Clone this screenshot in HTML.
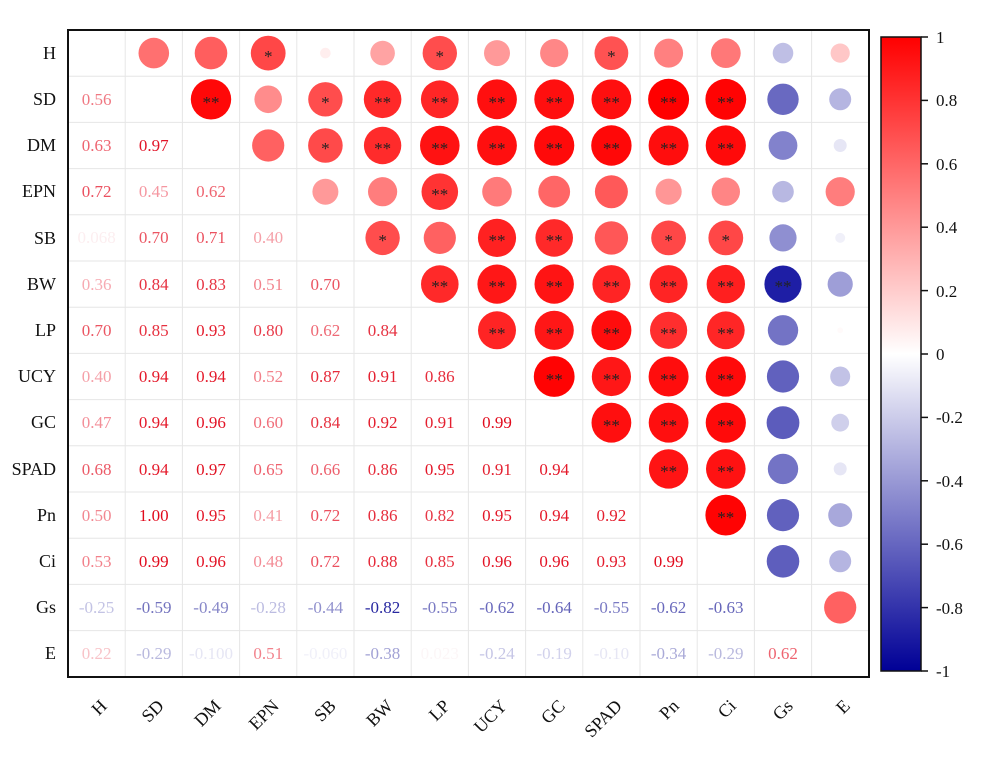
<!DOCTYPE html>
<html><head><meta charset="utf-8"><style>
html,body{margin:0;padding:0;background:#fff}
svg{display:block}
text{font-family:"Liberation Serif",serif}
</style></head><body>
<svg width="1000" height="765" viewBox="0 0 1000 765" xmlns="http://www.w3.org/2000/svg">
<defs><linearGradient id="cb" x1="0" y1="0" x2="0" y2="1">
<stop offset="0" stop-color="rgb(255,0,0)"/><stop offset="0.5" stop-color="#fff"/><stop offset="1" stop-color="rgb(0,0,150)"/></linearGradient></defs>
<g stroke="#e6e6e6" stroke-width="1">
<line x1="125.2" y1="30" x2="125.2" y2="677"/><line x1="182.4" y1="30" x2="182.4" y2="677"/><line x1="239.6" y1="30" x2="239.6" y2="677"/><line x1="296.8" y1="30" x2="296.8" y2="677"/><line x1="354" y1="30" x2="354" y2="677"/><line x1="411.2" y1="30" x2="411.2" y2="677"/><line x1="468.4" y1="30" x2="468.4" y2="677"/><line x1="525.6" y1="30" x2="525.6" y2="677"/><line x1="582.8" y1="30" x2="582.8" y2="677"/><line x1="640" y1="30" x2="640" y2="677"/><line x1="697.2" y1="30" x2="697.2" y2="677"/><line x1="754.4" y1="30" x2="754.4" y2="677"/><line x1="811.6" y1="30" x2="811.6" y2="677"/>
<line x1="68" y1="76.2" x2="869" y2="76.2"/><line x1="68" y1="122.4" x2="869" y2="122.4"/><line x1="68" y1="168.6" x2="869" y2="168.6"/><line x1="68" y1="214.8" x2="869" y2="214.8"/><line x1="68" y1="261" x2="869" y2="261"/><line x1="68" y1="307.2" x2="869" y2="307.2"/><line x1="68" y1="353.4" x2="869" y2="353.4"/><line x1="68" y1="399.6" x2="869" y2="399.6"/><line x1="68" y1="445.8" x2="869" y2="445.8"/><line x1="68" y1="492" x2="869" y2="492"/><line x1="68" y1="538.2" x2="869" y2="538.2"/><line x1="68" y1="584.4" x2="869" y2="584.4"/><line x1="68" y1="630.6" x2="869" y2="630.6"/>
</g>
<rect x="68" y="30" width="801" height="647" fill="none" stroke="#111" stroke-width="2"/>
<g>
<circle cx="153.8" cy="53.1" r="15.3" fill="rgb(255,112,112)"/><circle cx="211" cy="53.1" r="16.3" fill="rgb(255,94,94)"/><circle cx="268.2" cy="53.1" r="17.4" fill="rgb(255,71,71)"/><circle cx="325.4" cy="53.1" r="5.3" fill="rgb(255,238,238)"/><circle cx="382.6" cy="53.1" r="12.3" fill="rgb(255,163,163)"/><circle cx="439.8" cy="53.1" r="17.2" fill="rgb(255,77,77)"/><circle cx="497" cy="53.1" r="13" fill="rgb(255,153,153)"/><circle cx="554.2" cy="53.1" r="14.1" fill="rgb(255,135,135)"/><circle cx="611.4" cy="53.1" r="16.9" fill="rgb(255,82,82)"/><circle cx="668.6" cy="53.1" r="14.5" fill="rgb(255,128,128)"/><circle cx="725.8" cy="53.1" r="14.9" fill="rgb(255,120,120)"/><circle cx="783" cy="53.1" r="10.3" fill="rgb(191,191,229)"/><circle cx="840.2" cy="53.1" r="9.6" fill="rgb(255,199,199)"/>
<circle cx="211" cy="99.3" r="20.2" fill="rgb(255,8,8)"/><circle cx="268.2" cy="99.3" r="13.8" fill="rgb(255,140,140)"/><circle cx="325.4" cy="99.3" r="17.2" fill="rgb(255,77,77)"/><circle cx="382.6" cy="99.3" r="18.8" fill="rgb(255,41,41)"/><circle cx="439.8" cy="99.3" r="18.9" fill="rgb(255,38,38)"/><circle cx="497" cy="99.3" r="19.9" fill="rgb(255,15,15)"/><circle cx="554.2" cy="99.3" r="19.9" fill="rgb(255,15,15)"/><circle cx="611.4" cy="99.3" r="19.9" fill="rgb(255,15,15)"/><circle cx="668.6" cy="99.3" r="20.5" fill="rgb(255,0,0)"/><circle cx="725.8" cy="99.3" r="20.4" fill="rgb(255,3,3)"/><circle cx="783" cy="99.3" r="15.7" fill="rgb(105,105,193)"/><circle cx="840.2" cy="99.3" r="11" fill="rgb(181,181,225)"/>
<circle cx="268.2" cy="145.5" r="16.1" fill="rgb(255,97,97)"/><circle cx="325.4" cy="145.5" r="17.3" fill="rgb(255,74,74)"/><circle cx="382.6" cy="145.5" r="18.7" fill="rgb(255,43,43)"/><circle cx="439.8" cy="145.5" r="19.8" fill="rgb(255,18,18)"/><circle cx="497" cy="145.5" r="19.9" fill="rgb(255,15,15)"/><circle cx="554.2" cy="145.5" r="20.1" fill="rgb(255,10,10)"/><circle cx="611.4" cy="145.5" r="20.2" fill="rgb(255,8,8)"/><circle cx="668.6" cy="145.5" r="20" fill="rgb(255,13,13)"/><circle cx="725.8" cy="145.5" r="20.1" fill="rgb(255,10,10)"/><circle cx="783" cy="145.5" r="14.4" fill="rgb(130,130,204)"/><circle cx="840.2" cy="145.5" r="6.5" fill="rgb(230,230,245)"/>
<circle cx="325.4" cy="191.7" r="13" fill="rgb(255,153,153)"/><circle cx="382.6" cy="191.7" r="14.6" fill="rgb(255,125,125)"/><circle cx="439.8" cy="191.7" r="18.3" fill="rgb(255,51,51)"/><circle cx="497" cy="191.7" r="14.8" fill="rgb(255,122,122)"/><circle cx="554.2" cy="191.7" r="15.9" fill="rgb(255,102,102)"/><circle cx="611.4" cy="191.7" r="16.5" fill="rgb(255,89,89)"/><circle cx="668.6" cy="191.7" r="13.1" fill="rgb(255,150,150)"/><circle cx="725.8" cy="191.7" r="14.2" fill="rgb(255,133,133)"/><circle cx="783" cy="191.7" r="10.8" fill="rgb(184,184,226)"/><circle cx="840.2" cy="191.7" r="14.6" fill="rgb(255,125,125)"/>
<circle cx="382.6" cy="237.9" r="17.2" fill="rgb(255,77,77)"/><circle cx="439.8" cy="237.9" r="16.1" fill="rgb(255,97,97)"/><circle cx="497" cy="237.9" r="19.1" fill="rgb(255,33,33)"/><circle cx="554.2" cy="237.9" r="18.8" fill="rgb(255,41,41)"/><circle cx="611.4" cy="237.9" r="16.7" fill="rgb(255,87,87)"/><circle cx="668.6" cy="237.9" r="17.4" fill="rgb(255,71,71)"/><circle cx="725.8" cy="237.9" r="17.4" fill="rgb(255,71,71)"/><circle cx="783" cy="237.9" r="13.6" fill="rgb(143,143,209)"/><circle cx="840.2" cy="237.9" r="5" fill="rgb(240,240,249)"/>
<circle cx="439.8" cy="284.1" r="18.8" fill="rgb(255,41,41)"/><circle cx="497" cy="284.1" r="19.6" fill="rgb(255,23,23)"/><circle cx="554.2" cy="284.1" r="19.7" fill="rgb(255,20,20)"/><circle cx="611.4" cy="284.1" r="19" fill="rgb(255,36,36)"/><circle cx="668.6" cy="284.1" r="19" fill="rgb(255,36,36)"/><circle cx="725.8" cy="284.1" r="19.2" fill="rgb(255,31,31)"/><circle cx="783" cy="284.1" r="18.6" fill="rgb(30,30,165)"/><circle cx="840.2" cy="284.1" r="12.6" fill="rgb(158,158,215)"/>
<circle cx="497" cy="330.3" r="19" fill="rgb(255,36,36)"/><circle cx="554.2" cy="330.3" r="19.6" fill="rgb(255,23,23)"/><circle cx="611.4" cy="330.3" r="20" fill="rgb(255,13,13)"/><circle cx="668.6" cy="330.3" r="18.6" fill="rgb(255,46,46)"/><circle cx="725.8" cy="330.3" r="18.9" fill="rgb(255,38,38)"/><circle cx="783" cy="330.3" r="15.2" fill="rgb(115,115,197)"/><circle cx="840.2" cy="330.3" r="2.9" fill="rgb(255,250,250)"/>
<circle cx="554.2" cy="376.5" r="20.4" fill="rgb(255,3,3)"/><circle cx="611.4" cy="376.5" r="19.6" fill="rgb(255,23,23)"/><circle cx="668.6" cy="376.5" r="20" fill="rgb(255,13,13)"/><circle cx="725.8" cy="376.5" r="20.1" fill="rgb(255,10,10)"/><circle cx="783" cy="376.5" r="16.1" fill="rgb(97,97,190)"/><circle cx="840.2" cy="376.5" r="10" fill="rgb(194,194,230)"/>
<circle cx="611.4" cy="422.7" r="19.9" fill="rgb(255,15,15)"/><circle cx="668.6" cy="422.7" r="19.9" fill="rgb(255,15,15)"/><circle cx="725.8" cy="422.7" r="20.1" fill="rgb(255,10,10)"/><circle cx="783" cy="422.7" r="16.4" fill="rgb(92,92,188)"/><circle cx="840.2" cy="422.7" r="8.9" fill="rgb(207,207,235)"/>
<circle cx="668.6" cy="468.9" r="19.7" fill="rgb(255,20,20)"/><circle cx="725.8" cy="468.9" r="19.8" fill="rgb(255,18,18)"/><circle cx="783" cy="468.9" r="15.2" fill="rgb(115,115,197)"/><circle cx="840.2" cy="468.9" r="6.5" fill="rgb(230,230,245)"/>
<circle cx="725.8" cy="515.1" r="20.4" fill="rgb(255,3,3)"/><circle cx="783" cy="515.1" r="16.1" fill="rgb(97,97,190)"/><circle cx="840.2" cy="515.1" r="12" fill="rgb(168,168,219)"/>
<circle cx="783" cy="561.3" r="16.3" fill="rgb(94,94,189)"/><circle cx="840.2" cy="561.3" r="11" fill="rgb(181,181,225)"/>
<circle cx="840.2" cy="607.5" r="16.1" fill="rgb(255,97,97)"/>
</g>
<g font-size="17" fill="#222" text-anchor="middle">
<text x="268.2" y="62">*</text><text x="439.8" y="62">*</text><text x="611.4" y="62">*</text>
<text x="211" y="108">**</text><text x="325.4" y="108">*</text><text x="382.6" y="108">**</text><text x="439.8" y="108">**</text><text x="497" y="108">**</text><text x="554.2" y="108">**</text><text x="611.4" y="108">**</text><text x="668.6" y="108">**</text><text x="725.8" y="108">**</text>
<text x="325.4" y="154">*</text><text x="382.6" y="154">**</text><text x="439.8" y="154">**</text><text x="497" y="154">**</text><text x="554.2" y="154">**</text><text x="611.4" y="154">**</text><text x="668.6" y="154">**</text><text x="725.8" y="154">**</text>
<text x="439.8" y="200">**</text>
<text x="382.6" y="246">*</text><text x="497" y="246">**</text><text x="554.2" y="246">**</text><text x="668.6" y="246">*</text><text x="725.8" y="246">*</text>
<text x="439.8" y="292">**</text><text x="497" y="292">**</text><text x="554.2" y="292">**</text><text x="611.4" y="292">**</text><text x="668.6" y="292">**</text><text x="725.8" y="292">**</text><text x="783" y="292">**</text>
<text x="497" y="339">**</text><text x="554.2" y="339">**</text><text x="611.4" y="339">**</text><text x="668.6" y="339">**</text><text x="725.8" y="339">**</text>
<text x="554.2" y="385">**</text><text x="611.4" y="385">**</text><text x="668.6" y="385">**</text><text x="725.8" y="385">**</text>
<text x="611.4" y="431">**</text><text x="668.6" y="431">**</text><text x="725.8" y="431">**</text>
<text x="668.6" y="477">**</text><text x="725.8" y="477">**</text>
<text x="725.8" y="523">**</text>
</g>
<g font-size="17" text-anchor="middle">
<text x="96.6" y="105" fill="rgb(240,120,130)">0.56</text>
<text x="96.6" y="151" fill="rgb(238,100,112)">0.63</text><text x="153.8" y="151" fill="rgb(225,20,40)">0.97</text>
<text x="96.6" y="197" fill="rgb(235,80,95)">0.72</text><text x="153.8" y="197" fill="rgb(245,150,160)">0.45</text><text x="211" y="197" fill="rgb(238,100,112)">0.62</text>
<text x="96.6" y="243" fill="rgb(252,238,240)">0.068</text><text x="153.8" y="243" fill="rgb(235,85,98)">0.70</text><text x="211" y="243" fill="rgb(235,82,96)">0.71</text><text x="268.2" y="243" fill="rgb(245,160,168)">0.40</text>
<text x="96.6" y="290" fill="rgb(247,170,178)">0.36</text><text x="153.8" y="290" fill="rgb(230,50,65)">0.84</text><text x="211" y="290" fill="rgb(230,52,67)">0.83</text><text x="268.2" y="290" fill="rgb(242,130,140)">0.51</text><text x="325.4" y="290" fill="rgb(235,85,98)">0.70</text>
<text x="96.6" y="336" fill="rgb(235,85,98)">0.70</text><text x="153.8" y="336" fill="rgb(230,48,63)">0.85</text><text x="211" y="336" fill="rgb(228,28,45)">0.93</text><text x="268.2" y="336" fill="rgb(232,60,75)">0.80</text><text x="325.4" y="336" fill="rgb(238,105,117)">0.62</text><text x="382.6" y="336" fill="rgb(230,50,65)">0.84</text>
<text x="96.6" y="382" fill="rgb(245,160,168)">0.40</text><text x="153.8" y="382" fill="rgb(228,25,42)">0.94</text><text x="211" y="382" fill="rgb(228,25,42)">0.94</text><text x="268.2" y="382" fill="rgb(242,128,138)">0.52</text><text x="325.4" y="382" fill="rgb(230,42,58)">0.87</text><text x="382.6" y="382" fill="rgb(228,32,48)">0.91</text><text x="439.8" y="382" fill="rgb(230,45,60)">0.86</text>
<text x="96.6" y="428" fill="rgb(243,142,152)">0.47</text><text x="153.8" y="428" fill="rgb(228,25,42)">0.94</text><text x="211" y="428" fill="rgb(227,20,38)">0.96</text><text x="268.2" y="428" fill="rgb(240,110,122)">0.60</text><text x="325.4" y="428" fill="rgb(230,50,65)">0.84</text><text x="382.6" y="428" fill="rgb(228,30,46)">0.92</text><text x="439.8" y="428" fill="rgb(228,32,48)">0.91</text><text x="497" y="428" fill="rgb(225,12,30)">0.99</text>
<text x="96.6" y="475" fill="rgb(236,90,103)">0.68</text><text x="153.8" y="475" fill="rgb(228,25,42)">0.94</text><text x="211" y="475" fill="rgb(225,18,35)">0.97</text><text x="268.2" y="475" fill="rgb(238,97,110)">0.65</text><text x="325.4" y="475" fill="rgb(237,95,108)">0.66</text><text x="382.6" y="475" fill="rgb(230,45,60)">0.86</text><text x="439.8" y="475" fill="rgb(227,22,40)">0.95</text><text x="497" y="475" fill="rgb(228,32,48)">0.91</text><text x="554.2" y="475" fill="rgb(228,25,42)">0.94</text>
<text x="96.6" y="521" fill="rgb(242,135,145)">0.50</text><text x="153.8" y="521" fill="rgb(225,10,28)">1.00</text><text x="211" y="521" fill="rgb(227,22,40)">0.95</text><text x="268.2" y="521" fill="rgb(245,158,166)">0.41</text><text x="325.4" y="521" fill="rgb(235,80,95)">0.72</text><text x="382.6" y="521" fill="rgb(230,45,60)">0.86</text><text x="439.8" y="521" fill="rgb(231,55,70)">0.82</text><text x="497" y="521" fill="rgb(227,22,40)">0.95</text><text x="554.2" y="521" fill="rgb(228,25,42)">0.94</text><text x="611.4" y="521" fill="rgb(228,30,46)">0.92</text>
<text x="96.6" y="567" fill="rgb(242,128,138)">0.53</text><text x="153.8" y="567" fill="rgb(225,12,30)">0.99</text><text x="211" y="567" fill="rgb(227,20,38)">0.96</text><text x="268.2" y="567" fill="rgb(243,140,150)">0.48</text><text x="325.4" y="567" fill="rgb(235,80,95)">0.72</text><text x="382.6" y="567" fill="rgb(230,40,56)">0.88</text><text x="439.8" y="567" fill="rgb(230,48,63)">0.85</text><text x="497" y="567" fill="rgb(227,20,38)">0.96</text><text x="554.2" y="567" fill="rgb(227,20,38)">0.96</text><text x="611.4" y="567" fill="rgb(228,28,45)">0.93</text><text x="668.6" y="567" fill="rgb(225,12,30)">0.99</text>
<text x="96.6" y="613" fill="rgb(195,195,228)">-0.25</text><text x="153.8" y="613" fill="rgb(115,115,190)">-0.59</text><text x="211" y="613" fill="rgb(135,135,200)">-0.49</text><text x="268.2" y="613" fill="rgb(188,188,225)">-0.28</text><text x="325.4" y="613" fill="rgb(145,145,205)">-0.44</text><text x="382.6" y="613" fill="rgb(40,40,160)">-0.82</text><text x="439.8" y="613" fill="rgb(122,122,195)">-0.55</text><text x="497" y="613" fill="rgb(105,105,188)">-0.62</text><text x="554.2" y="613" fill="rgb(100,100,185)">-0.64</text><text x="611.4" y="613" fill="rgb(122,122,195)">-0.55</text><text x="668.6" y="613" fill="rgb(105,105,188)">-0.62</text><text x="725.8" y="613" fill="rgb(102,102,186)">-0.63</text>
<text x="96.6" y="659" fill="rgb(248,195,200)">0.22</text><text x="153.8" y="659" fill="rgb(185,185,222)">-0.29</text><text x="211" y="659" fill="rgb(230,230,244)">-0.100</text><text x="268.2" y="659" fill="rgb(242,130,140)">0.51</text><text x="325.4" y="659" fill="rgb(240,240,249)">-0.060</text><text x="382.6" y="659" fill="rgb(162,162,213)">-0.38</text><text x="439.8" y="659" fill="rgb(252,246,247)">0.023</text><text x="497" y="659" fill="rgb(198,198,230)">-0.24</text><text x="554.2" y="659" fill="rgb(210,210,236)">-0.19</text><text x="611.4" y="659" fill="rgb(230,230,244)">-0.10</text><text x="668.6" y="659" fill="rgb(170,170,216)">-0.34</text><text x="725.8" y="659" fill="rgb(185,185,222)">-0.29</text><text x="783" y="659" fill="rgb(238,100,112)">0.62</text>
</g>
<g font-size="18" fill="#111" text-anchor="end">
<text x="56" y="59">H</text><text x="56" y="105">SD</text><text x="56" y="151">DM</text><text x="56" y="197">EPN</text><text x="56" y="244">SB</text><text x="56" y="290">BW</text><text x="56" y="336">LP</text><text x="56" y="382">UCY</text><text x="56" y="428">GC</text><text x="56" y="475">SPAD</text><text x="56" y="521">Pn</text><text x="56" y="567">Ci</text><text x="56" y="613">Gs</text><text x="56" y="659">E</text>
</g>
<g font-size="18" fill="#111" text-anchor="end">
<text transform="translate(108,707) rotate(-45)">H</text>
<text transform="translate(165,707) rotate(-45)">SD</text>
<text transform="translate(222,707) rotate(-45)">DM</text>
<text transform="translate(280,707) rotate(-45)">EPN</text>
<text transform="translate(337,707) rotate(-45)">SB</text>
<text transform="translate(394,707) rotate(-45)">BW</text>
<text transform="translate(451,707) rotate(-45)">LP</text>
<text transform="translate(508,707) rotate(-45)">UCY</text>
<text transform="translate(566,707) rotate(-45)">GC</text>
<text transform="translate(623,707) rotate(-45)">SPAD</text>
<text transform="translate(680,707) rotate(-45)">Pn</text>
<text transform="translate(737,707) rotate(-45)">Ci</text>
<text transform="translate(794,707) rotate(-45)">Gs</text>
<text transform="translate(851,707) rotate(-45)">E</text>
</g>
<rect x="881" y="37" width="40" height="634" fill="url(#cb)" stroke="#111" stroke-width="1.5"/>
<g stroke="#111" stroke-width="1.5">
<line x1="921" y1="37" x2="928" y2="37"/><line x1="921" y1="100.4" x2="928" y2="100.4"/><line x1="921" y1="163.8" x2="928" y2="163.8"/><line x1="921" y1="227.2" x2="928" y2="227.2"/><line x1="921" y1="290.6" x2="928" y2="290.6"/><line x1="921" y1="354" x2="928" y2="354"/><line x1="921" y1="417.4" x2="928" y2="417.4"/><line x1="921" y1="480.8" x2="928" y2="480.8"/><line x1="921" y1="544.2" x2="928" y2="544.2"/><line x1="921" y1="607.6" x2="928" y2="607.6"/><line x1="921" y1="671" x2="928" y2="671"/>
</g>
<g font-size="17" fill="#111">
<text x="936" y="43">1</text><text x="936" y="106">0.8</text><text x="936" y="170">0.6</text><text x="936" y="233">0.4</text><text x="936" y="297">0.2</text><text x="936" y="360">0</text><text x="936" y="423">-0.2</text><text x="936" y="487">-0.4</text><text x="936" y="550">-0.6</text><text x="936" y="614">-0.8</text><text x="936" y="677">-1</text>
</g>
</svg>
</body></html>
